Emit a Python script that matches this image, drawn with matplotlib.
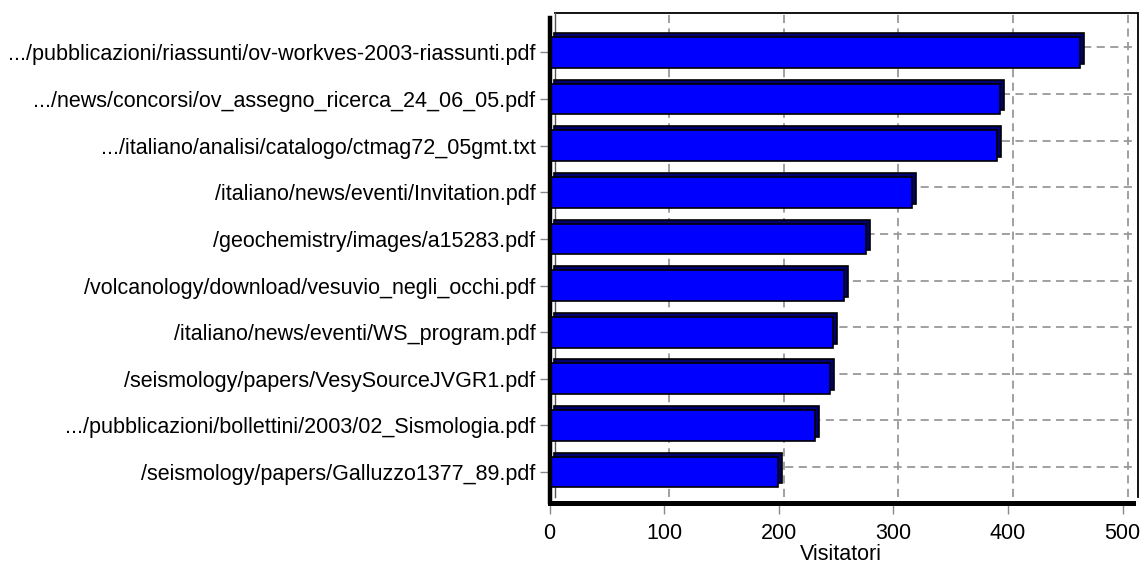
import matplotlib
matplotlib.use("Agg")
import matplotlib.pyplot as plt
from matplotlib import transforms
import numpy as np

categories = [
    ".../pubblicazioni/riassunti/ov-workves-2003-riassunti.pdf",
    ".../news/concorsi/ov_assegno_ricerca_24_06_05.pdf",
    ".../italiano/analisi/catalogo/ctmag72_05gmt.txt",
    "/italiano/news/eventi/Invitation.pdf",
    "/geochemistry/images/a15283.pdf",
    "/volcanology/download/vesuvio_negli_occhi.pdf",
    "/italiano/news/eventi/WS_program.pdf",
    "/seismology/papers/VesySourceJVGR1.pdf",
    ".../pubblicazioni/bollettini/2003/02_Sismologia.pdf",
    "/seismology/papers/Galluzzo1377_89.pdf",
]
visitors = [463, 393, 390, 316, 276, 257, 247, 245, 232, 199]
xticks = [0, 100, 200, 300, 400, 500]
xlabel = "Visitatori"

plt.rcParams['font.family'] = ['Liberation Sans', 'DejaVu Sans']
FS = 15.5

W, H = 1145, 567
fig = plt.figure(figsize=(W / 100, H / 100), dpi=100)
left, right, top, bottom = 549.5, 1133, 18, 502.5
ax = fig.add_axes([left / W, (H - bottom) / H, (right - left) / W, (bottom - top) / H])

n = len(categories)
ypos = np.arange(n)
ax.set_xlim(0, 509)
ax.set_ylim(n - 1 + 0.654, -0.74)

depth_frame = transforms.offset_copy(ax.transData, fig=fig, x=5, y=5, units='dots')
depth_bar = transforms.offset_copy(ax.transData, fig=fig, x=4, y=4, units='dots')

grid_kw = dict(color='#999999', lw=1.3, ls=(0, (4.5, 3)), zorder=0.5, clip_on=False)
y0, y1 = ax.get_ylim()
x0, x1 = ax.get_xlim()
for t in xticks[1:]:
    ax.plot([t, t], [y0, y1], transform=depth_frame, **grid_kw)
for y in ypos:
    ax.plot([x0, x1], [y, y], transform=depth_frame, **grid_kw)

# back frame (top and right)
ax.plot([x0, x1, x1], [y1, y1, y0], transform=depth_frame, color='black', lw=1.3,
        zorder=0.6, clip_on=False, solid_joinstyle='miter')
ax.plot([x0, x0], [y1, y0], transform=depth_frame, color='#555555', lw=1.0,
        zorder=0.6, clip_on=False)

h = 0.66
ax.barh(ypos, visitors, height=h, color='#000070', edgecolor='black', lw=1.2,
        transform=depth_bar, zorder=2, clip_on=False)
ax.barh(ypos, visitors, height=h, color='#0000ff', edgecolor='black', lw=1.2,
        zorder=3, clip_on=False)

for s in ['top', 'right']:
    ax.spines[s].set_visible(False)
ax.spines['bottom'].set_linewidth(3.6)
ax.spines['left'].set_linewidth(3.2)
ax.spines['bottom'].set_zorder(4)
ax.spines['left'].set_zorder(4)

ax.set_yticks(ypos)
ax.set_yticklabels(categories)
ax.set_xticks(xticks)
ax.tick_params(axis='y', length=7, width=1, color='#888888', pad=3, labelsize=FS)
ax.tick_params(axis='x', length=8, width=1, color='#888888', pad=6.5, labelsize=FS)
ax.set_xlabel(xlabel, fontsize=FS, labelpad=0.5)

fig.savefig("out.png", dpi=100, facecolor='white')
